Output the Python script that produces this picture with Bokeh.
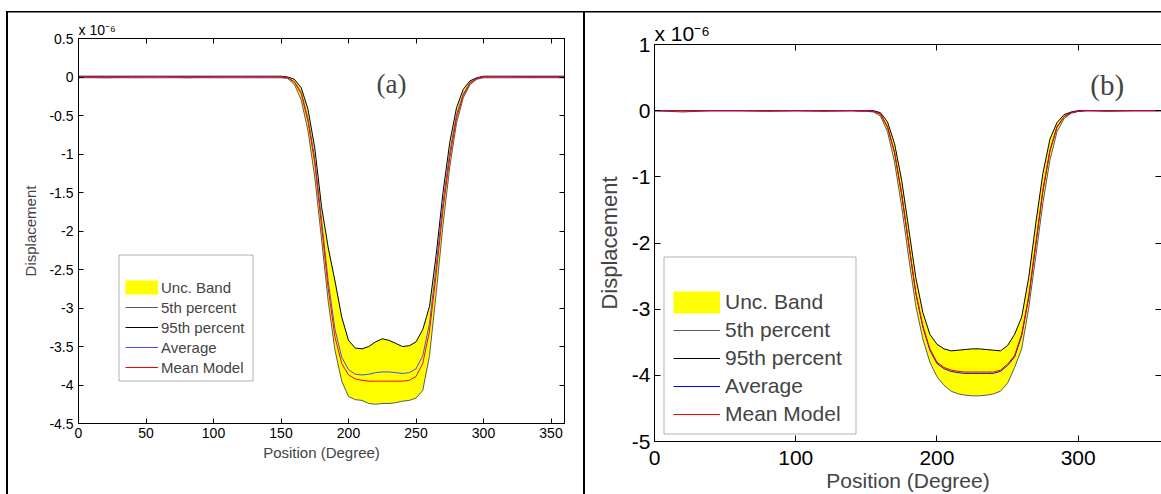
import math
from bokeh.plotting import figure
from bokeh.models import (ColumnDataSource, LinearAxis, FixedTicker, Range1d,
                          Legend, LegendItem, BoxAnnotation, Label, Title)
from bokeh.layouts import row
from bokeh.embed import file_html
from bokeh.resources import INLINE

FONT = "Liberation Sans"
SERIF = "Liberation Serif"

# ---------------- data ----------------
DEG = [0, 20, 40, 60, 80, 100, 120, 140,
       145, 150, 155, 160, 165, 170, 175, 180, 185, 190, 195, 200,
       205, 210, 215, 220, 225, 230, 235, 240, 245, 250, 255, 260,
       265, 270, 275, 280, 285, 290, 295, 300, 305, 310,
       320, 340, 360]

# panel (a), values in units of 1e-6
A_MEAN = [0, 0, 0, 0, 0, 0, 0, 0,
          0, 0, -0.01, -0.07, -0.22, -0.58, -1.12, -1.93, -2.75, -3.38, -3.72, -3.87,
          -3.92, -3.94, -3.95, -3.95, -3.95, -3.95, -3.95, -3.95, -3.94, -3.89, -3.72, -3.30,
          -2.55, -1.72, -1.05, -0.53, -0.24, -0.08, -0.02, 0, 0, 0,
          0, 0, 0]
A_AVG = [0, -0.01, 0, 0.005, -0.01, 0, 0.005, 0,
         0, 0, -0.01, -0.06, -0.20, -0.54, -1.06, -1.85, -2.66, -3.28, -3.64, -3.80,
         -3.86, -3.87, -3.86, -3.84, -3.83, -3.83, -3.84, -3.85, -3.84, -3.79, -3.62, -3.20,
         -2.45, -1.63, -0.98, -0.49, -0.22, -0.07, -0.02, 0, 0, 0.005,
         0, -0.005, 0]
A_P95 = [0.01, 0.01, 0.01, 0.01, 0.01, 0.01, 0.01, 0.01,
         0.01, 0.01, 0.0, -0.03, -0.14, -0.42, -0.92, -1.68, -2.22, -2.65, -3.12, -3.42,
         -3.52, -3.53, -3.50, -3.44, -3.40, -3.42, -3.46, -3.50, -3.49, -3.44, -3.28, -2.98,
         -2.30, -1.50, -0.85, -0.40, -0.16, -0.05, -0.01, 0.01, 0.01, 0.01,
         0.01, 0.01, 0.01]
A_P05 = [-0.01, -0.01, -0.01, -0.01, -0.01, -0.01, -0.01, -0.01,
         -0.01, -0.01, -0.02, -0.10, -0.30, -0.70, -1.30, -2.10, -2.92, -3.55, -3.95, -4.15,
         -4.19, -4.20, -4.24, -4.25, -4.24, -4.24, -4.23, -4.21, -4.20, -4.17, -4.07, -3.62,
         -2.80, -1.92, -1.17, -0.60, -0.27, -0.10, -0.03, -0.01, -0.01, -0.01,
         -0.01, -0.01, -0.01]

# panel (b)
B_MEAN = [0, 0, 0, 0, 0, 0, 0, 0,
          0, 0, -0.01, -0.05, -0.24, -0.63, -1.25, -2.00, -2.74, -3.25, -3.60, -3.80,
          -3.88, -3.92, -3.94, -3.95, -3.95, -3.95, -3.95, -3.95, -3.92, -3.83, -3.70, -3.38,
          -2.80, -2.00, -1.20, -0.60, -0.24, -0.09, -0.03, -0.01, 0, 0,
          0, 0, 0]
B_AVG = [0, 0, 0, 0, 0, 0, 0, 0,
         0, 0, -0.01, -0.05, -0.25, -0.64, -1.27, -2.02, -2.76, -3.27, -3.62, -3.82,
         -3.90, -3.94, -3.96, -3.97, -3.97, -3.97, -3.97, -3.97, -3.94, -3.85, -3.72, -3.40,
         -2.82, -2.02, -1.22, -0.61, -0.25, -0.09, -0.03, -0.01, 0, 0,
         0, 0, 0]
B_P95 = [0, 0, 0, 0, 0, 0, 0, 0,
         0, 0, 0, -0.03, -0.17, -0.50, -1.05, -1.78, -2.52, -3.05, -3.38, -3.53,
         -3.60, -3.63, -3.62, -3.61, -3.60, -3.60, -3.61, -3.62, -3.63, -3.55, -3.38, -3.12,
         -2.52, -1.70, -0.95, -0.43, -0.18, -0.06, -0.02, 0, 0, 0,
         0, 0, 0]
B_P05 = [0, -0.02, 0, 0, -0.01, 0, -0.01, 0,
         -0.01, -0.01, -0.02, -0.08, -0.32, -0.78, -1.45, -2.22, -2.95, -3.45, -3.80, -4.02,
         -4.15, -4.24, -4.28, -4.30, -4.31, -4.31, -4.30, -4.28, -4.24, -4.12, -3.88, -3.60,
         -2.98, -2.20, -1.40, -0.75, -0.32, -0.12, -0.04, -0.01, 0, 0,
         -0.01, 0, 0]

A_XTICKS = [0, 50, 100, 150, 200, 250, 300, 350]
A_YTICKS = [0.5, 0, -0.5, -1, -1.5, -2, -2.5, -3, -3.5, -4, -4.5]
A_YLABELS = ["0.5", "0", "-0.5", "-1", "-1.5", "-2", "-2.5", "-3", "-3.5", "-4", "-4.5"]
B_XTICKS = [0, 100, 200, 300]
B_YTICKS = [1, 0, -1, -2, -3, -4, -5]
B_YLABELS = ["1", "0", "-1", "-2", "-3", "-4", "-5"]

LEGEND_LABELS = ["Unc. Band", "5th percent", "95th percent", "Average", "Mean Model"]
X_TITLE = "Position (Degree)"
Y_TITLE = "Displacement"
EXPONENT = "x 10\u207b\u2076"


def style_axis(ax, fs, labels=True, line=True, tick=5):
    ax.major_tick_in = tick
    ax.major_tick_out = 0
    ax.minor_tick_in = 0
    ax.minor_tick_out = 0
    ax.minor_tick_line_color = None
    ax.major_tick_line_color = "black"
    ax.axis_line_color = "black" if line else None
    ax.major_label_text_font = FONT
    ax.major_label_text_font_size = f"{fs}px"
    if labels:
        ax.major_label_text_color = "black"
    else:
        ax.major_label_text_color = None
        ax.major_label_standoff = 0


def panel(cfg, p05, p95, avg, mean, xticks, yticks, ylabels):
    p = figure(width=cfg["w"], height=cfg["h"], title=None,
               x_range=Range1d(0, cfg["xmax"]), y_range=Range1d(*cfg["yr"]),
               output_backend="svg", toolbar_location=None,
               min_border_left=cfg["bl"], min_border_right=cfg["br"],
               min_border_top=cfg["bt"], min_border_bottom=cfg["bb"],
               background_fill_color="white", border_fill_alpha=0.0)
    p.grid.visible = False
    p.outline_line_color = "black" if cfg["outline"] else None

    src = ColumnDataSource(dict(x=DEG, lo=p05, hi=p95, avg=avg, mean=mean))
    p.varea(x="x", y1="lo", y2="hi", source=src, fill_color="#FFFF00")
    r5 = p.line("x", "lo", source=src, line_color="#5a5a5a", line_width=1)
    r95 = p.line("x", "hi", source=src, line_color="black", line_width=1)
    ra = p.line("x", "avg", source=src, line_color=cfg["blue"], line_width=1)
    rm = p.line("x", "mean", source=src, line_color="#FF0000", line_width=1)
    # legend swatch for the band (single undefined point: draws nothing in the plot)
    swatch = p.line(x=[0], y=[math.nan], line_color="#FFFF00", line_width=cfg["sw_h"])

    fs = cfg["fs"]
    xa = p.xaxis[0]
    xa.ticker = FixedTicker(ticks=xticks)
    style_axis(xa, fs, tick=cfg["tick"])
    xa.major_label_standoff = cfg["xls"]
    xa.axis_label = X_TITLE
    xa.axis_label_text_font = FONT
    xa.axis_label_text_font_size = f"{cfg['afs_x']}px"
    xa.axis_label_text_font_style = "normal"
    xa.axis_label_standoff = cfg["xas"]

    ya = p.yaxis[0]
    ya.ticker = FixedTicker(ticks=yticks)
    ya.major_label_overrides = {t: s for t, s in zip(yticks, ylabels)}
    style_axis(ya, fs, tick=cfg["tick"])
    ya.major_label_standoff = cfg["yls"]
    ya.axis_label = Y_TITLE
    ya.axis_label_text_font = FONT
    ya.axis_label_text_font_size = f"{cfg['afs_y']}px"
    ya.axis_label_text_font_style = "normal"
    ya.axis_label_standoff = cfg["yas"]

    top = LinearAxis(ticker=FixedTicker(ticks=xticks))
    style_axis(top, fs, labels=False, tick=cfg["tick"])
    p.add_layout(top, "above")
    right = LinearAxis(ticker=FixedTicker(ticks=yticks))
    style_axis(right, fs, labels=False, line=cfg["outline"], tick=cfg["tick"])
    p.add_layout(right, "right")

    # exponent marker of the y axis, as a left-aligned title just above the frame
    p.title = Title(text=EXPONENT, align="left", offset=0, standoff=cfg["ex_so"],
                    text_font=FONT, text_font_size=f"{cfg['ex_fs']}px",
                    text_font_style="normal", text_color="black")

    # legend frame
    bx = cfg["lbox"]
    p.add_layout(BoxAnnotation(left=bx[0], right=bx[1], top=bx[2], bottom=bx[3],
                               left_units="screen", right_units="screen",
                               top_units="screen", bottom_units="screen",
                               fill_color="white", fill_alpha=1.0,
                               line_color="black", line_width=1))
    items = [LegendItem(label=lab, renderers=[r])
             for lab, r in zip(LEGEND_LABELS, [swatch, r5, r95, ra, rm])]
    leg = Legend(items=items, location=cfg["lloc"], orientation="vertical",
                 border_line_color=None, background_fill_alpha=0.0,
                 padding=0, spacing=0, margin=0,
                 glyph_width=cfg["gw"], glyph_height=cfg["lh"], label_height=cfg["lh"],
                 label_standoff=cfg["lso"],
                 label_text_font=FONT, label_text_font_size=f"{cfg['lfs']}px",
                 click_policy="none")
    p.add_layout(leg, "center")

    tg = cfg["tag"]
    p.add_layout(Label(x=tg[0], y=tg[1], text=tg[2], text_font=SERIF,
                       text_font_size=f"{tg[3]}px", text_align="center",
                       text_baseline="middle"))
    return p


# both panels share the same top/bottom border sizes (row aligns plot frames)
cfg_a = dict(w=584, h=476, xmax=360, yr=(-4.5, 0.5), bl=78, br=20, bt=38, bb=53,
             outline=True, blue="#4a4aff", fs=14, tick=5, xls=4, xas=3, yls=5, yas=7,
             afs_x=15, afs_y=15,
             lbox=(40.5, 174.5, 168.5, 42.5), lloc=(47, 46), gw=33, lh=20, lso=3, lfs=15,
             sw_h=14, ex_fs=14, ex_so=2,
             tag=(231.9, -0.09, "(a)", 27))
cfg_b = dict(w=577, h=488, xmax=359, yr=(-5, 1), bl=70, br=0, bt=38, bb=53,
             outline=False, blue="#0000FF", fs=21, tick=6, xls=9, xas=1, yls=4, yas=7,
             afs_x=21, afs_y=22,
             lbox=(9.5, 201.5, 184.5, 7.5), lloc=(19, 13), gw=47, lh=28, lso=5, lfs=21,
             sw_h=22, ex_fs=21, ex_so=0,
             tag=(320.5, 0.385, "(b)", 29))

pa = panel(cfg_a, A_P05, A_P95, A_AVG, A_MEAN, A_XTICKS, A_YTICKS, A_YLABELS)
pb = panel(cfg_b, B_P05, B_P95, B_AVG, B_MEAN, B_XTICKS, B_YTICKS, B_YLABELS)
pb.margin = (6, 0, 0, 0)

# table-cell rules of the page: top rule, left rule, and the rule between the panels
RULES = ("linear-gradient(#000, #000) 6px 11px / 2px 483px no-repeat, "
         "linear-gradient(#000, #000) 6px 11px / 1155px 1.5px no-repeat, "
         "linear-gradient(#000, #000) 583px 11px / 2px 483px no-repeat, #ffffff")

layout = row(pa, pb, styles={"background": RULES})
open("out.html", "w").write(file_html(layout, INLINE))
